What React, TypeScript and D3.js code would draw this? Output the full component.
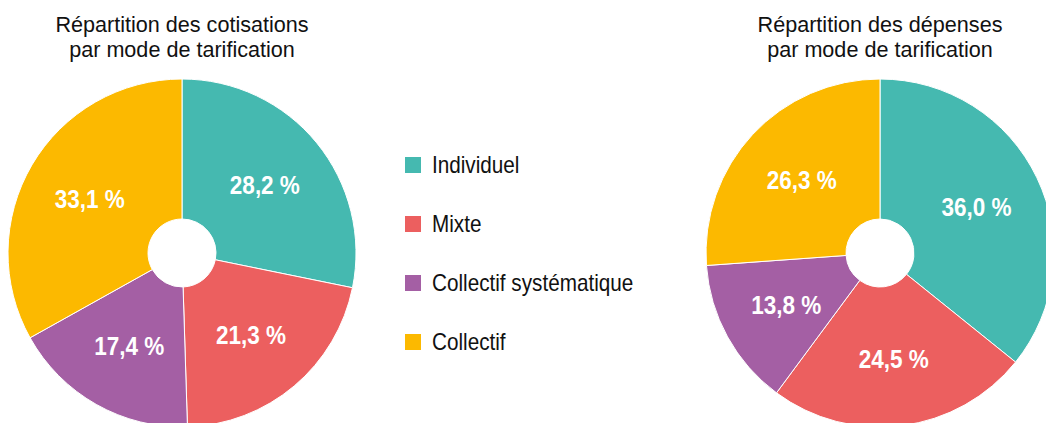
import React from "react";
import * as d3 from "d3";

const categories = ["Individuel", "Mixte", "Collectif systématique", "Collectif"];
const colors = ["#45B9B0", "#EC5F5F", "#A45FA4", "#FCB900"];
const cotisations = [28.2, 21.3, 17.4, 33.1];
const depenses = [36.0, 24.5, 13.8, 26.3];
const titleLeft = ["Répartition des cotisations", "par mode de tarification"];
const titleRight = ["Répartition des dépenses", "par mode de tarification"];

const FONT = "'Liberation Sans', Arial, sans-serif";
const W = 1046;
const H = 423;
const R = 174;
const R0 = 34;
const RL = 107;

function fmt(v: number) {
  return v.toFixed(1).replace(".", ",") + " %";
}

function Donut({ cx, cy, values, title }: { cx: number; cy: number; values: number[]; title: string[] }) {
  const pie = d3.pie<number>().sort(null).value((d) => d);
  const arcs = pie(values);
  const arc = d3.arc<d3.PieArcDatum<number>>().innerRadius(R0).outerRadius(R);
  const labelArc = d3.arc<d3.PieArcDatum<number>>().innerRadius(RL).outerRadius(RL);
  return (
    <g>
      {title.map((t, i) => (
        <text
          key={i}
          transform={`translate(${cx},${32 + i * 25}) scale(0.96,1)`}
          textAnchor="middle"
          fontFamily={FONT}
          fontSize={22.5}
          fill="#111"
        >
          {t}
        </text>
      ))}
      <g transform={`translate(${cx},${cy})`}>
        {arcs.map((a, i) => (
          <path key={i} d={arc(a) || ""} fill={colors[i]} stroke="#fff" strokeWidth={1} />
        ))}
        {arcs.map((a, i) => {
          const [x, y] = labelArc.centroid(a);
          return (
            <text
              key={"l" + i}
              transform={`translate(${x},${y}) scale(0.9,1)`}
              dy="0.36em"
              textAnchor="middle"
              fontFamily={FONT}
              fontWeight="bold"
              fontSize={25}
              fill="#fff"
            >
              {fmt(values[i])}
            </text>
          );
        })}
      </g>
    </g>
  );
}

export default function App() {
  const legendY = d3.scalePoint<string>().domain(categories).range([165, 342]);
  return (
    <div style={{ position: "fixed", left: 0, top: 0, width: W, height: H, background: "#fff" }}>
      <svg width={W} height={H} style={{ display: "block" }}>
        <Donut cx={182} cy={253} values={cotisations} title={titleLeft} />
        <Donut cx={880} cy={253} values={depenses} title={titleRight} />
        {categories.map((c, i) => {
          const y = legendY(c) as number;
          return (
            <g key={c}>
              <rect x={405} y={y - 8} width={16} height={16} fill={colors[i]} />
              <text
                transform={`translate(432,${y}) scale(0.9,1)`}
                dy="0.36em"
                fontFamily={FONT}
                fontSize={23}
                fill="#111"
              >
                {c}
              </text>
            </g>
          );
        })}
      </svg>
    </div>
  );
}
